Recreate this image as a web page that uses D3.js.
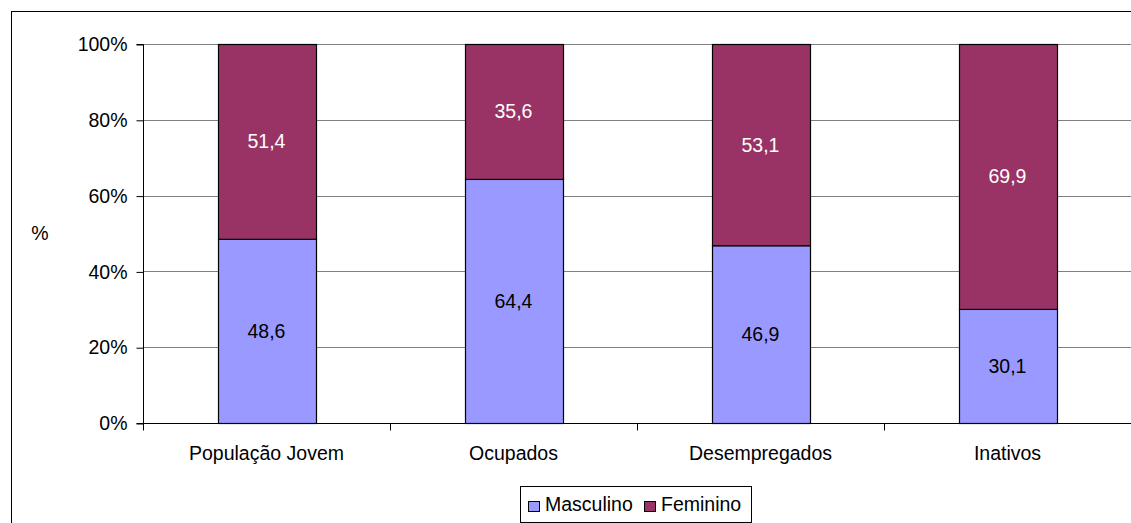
<!DOCTYPE html>
<html><head><meta charset="utf-8">
<script src="https://cdn.jsdelivr.net/npm/d3@7"></script>
<style>body{margin:0;background:#fff}svg{display:block;font-family:"Liberation Sans",Arial,sans-serif}</style>
</head><body>
<svg id="c" width="1131" height="523"></svg>
<script>
const categories = ["População Jovem","Ocupados","Desempregados","Inativos"];
const masculino = [48.6, 64.4, 46.9, 30.1];
const feminino = [51.4, 35.6, 53.1, 69.9];
const seriesNames = ["Masculino","Feminino"];
const seriesColors = ["#9999FF","#993366"];
const labelColors = ["#000","#fff"];
const yTicks = [0,20,40,60,80,100];

(function(){
const FS = 19.5;
const svg = d3.select("#c");
const W = 1131, H = 523;
svg.append("rect").attr("x",11.5).attr("y",11.5).attr("width",W).attr("height",H)
  .attr("fill","none").attr("stroke","#000").attr("stroke-width",1);

const pLeft = 143, pRight = 1131, pTop = 44, pBottom = 423;
const xb = d3.scaleBand().domain(categories).range([pLeft,pRight]);
const y = d3.scaleLinear().domain([0,100]).range([pBottom,pTop]);

svg.append("g").selectAll("line").data(yTicks.filter(d=>d>0)).join("line")
  .attr("x1",pLeft).attr("x2",pRight).attr("y1",d=>Math.round(y(d))+0.5).attr("y2",d=>Math.round(y(d))+0.5)
  .attr("stroke","#808080").attr("stroke-width",1);

const ya = svg.append("g").attr("transform",`translate(${pLeft+0.5},0.5)`)
  .call(d3.axisLeft(y).tickValues(yTicks).tickFormat(d=>d+"%").tickSize(7).tickPadding(9));
ya.select(".domain").attr("stroke","#000").attr("d",`M-7,${pTop}H0V${pBottom}H-7`);
ya.selectAll(".tick line").attr("stroke","#000");
ya.selectAll("text").attr("font-size",FS).attr("fill","#000").attr("font-family","Liberation Sans, Arial, sans-serif");

const xa = svg.append("g").attr("transform",`translate(0,${pBottom+0.5})`);
xa.append("line").attr("x1",pLeft).attr("x2",pRight).attr("stroke","#000");
xa.selectAll("line.t").data(d3.range(categories.length+1)).join("line").attr("class","t")
  .attr("x1",i=>Math.round(pLeft+i*xb.bandwidth())+0.5).attr("x2",i=>Math.round(pLeft+i*xb.bandwidth())+0.5)
  .attr("y1",0).attr("y2",7).attr("stroke","#000");
xa.selectAll("text").data(categories).join("text")
  .attr("x",d=>xb(d)+xb.bandwidth()/2).attr("y",36).attr("text-anchor","middle")
  .attr("font-size",FS).text(d=>d);

svg.append("text").attr("x",40).attr("y",240).attr("text-anchor","middle").attr("font-size",FS).text("%");

const data = categories.map((c,i)=>({cat:c, vals:[masculino[i], feminino[i]]}));
const bw = 98;
data.forEach(d=>{
  let base = 0;
  d.vals.forEach((v,s)=>{
    const cx = xb(d.cat)+xb.bandwidth()/2;
    const y0 = y(base), y1 = y(base+v);
    svg.append("rect").attr("x",Math.round(cx-bw/2)+0.5).attr("y",y1+0.5).attr("width",bw).attr("height",y0-y1)
      .attr("fill",seriesColors[s]).attr("stroke","#000").attr("stroke-width",1.2);
    svg.append("text").attr("x",cx).attr("y",(y0+y1)/2+7).attr("text-anchor","middle")
      .attr("font-size",FS).attr("fill",labelColors[s]).text(d3.format(".1f")(v).replace(".",","));
    base += v;
  });
});

const lg = svg.append("g");
lg.append("rect").attr("x",520.5).attr("y",486.5).attr("width",231).attr("height",36).attr("fill","#fff").attr("stroke","#000");
const items = [{n:seriesNames[0],c:seriesColors[0],x:528},{n:seriesNames[1],c:seriesColors[1],x:644}];
items.forEach(it=>{
  lg.append("rect").attr("x",it.x+0.5).attr("y",501.5).attr("width",11).attr("height",10).attr("fill",it.c).attr("stroke","#000");
  lg.append("text").attr("x",it.x+17).attr("y",511).attr("font-size",FS).text(it.n);
});
})();
</script>
</body></html>
